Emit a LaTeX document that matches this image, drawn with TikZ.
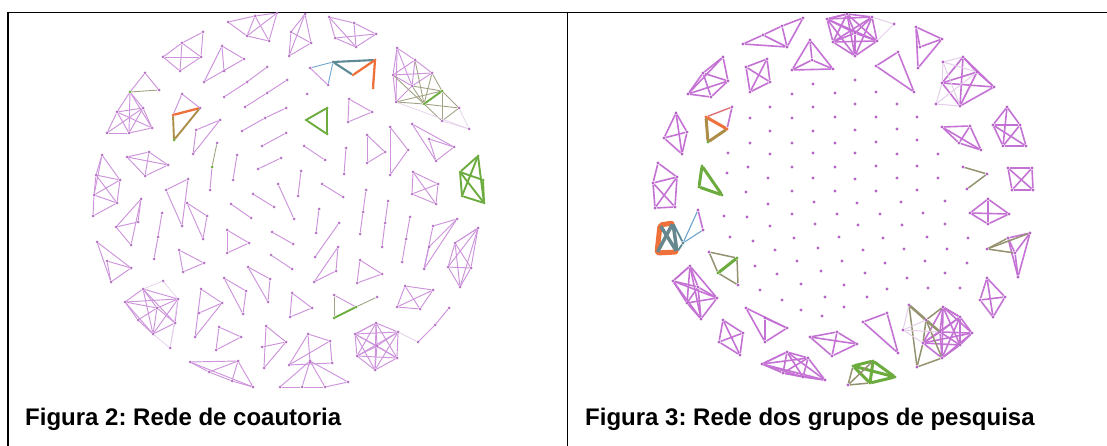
\documentclass[tikz,border=0pt]{standalone}
\usepackage{fontspec}
\setmainfont{Liberation Sans}
\frenchspacing
\pgfdeclarelayer{bg}
\pgfsetlayers{bg,main}

\definecolor{lpc}{RGB}{205,148,220}
\definecolor{ldc}{RGB}{182,116,196}
\definecolor{rpc}{RGB}{196,114,212}
\definecolor{rdc}{RGB}{180,100,196}
\definecolor{fpc}{RGB}{228,206,234}
\definecolor{grc}{RGB}{108,172,62}
\definecolor{orc}{RGB}{238,112,58}
\definecolor{tlc}{RGB}{92,138,150}
\definecolor{olc}{RGB}{148,146,112}
\definecolor{omc}{RGB}{172,142,72}
\definecolor{lbc}{RGB}{110,165,205}

\tikzset{
  ld/.style={circle,fill=ldc,draw=none,inner sep=0pt,minimum size=3pt},
  ldg/.style={ld,fill=grc},
  ldo/.style={ld,fill=orc},
  ldt/.style={ld,fill=tlc},
  rd/.style={circle,fill=rdc,draw=none,inner sep=0pt,minimum size=3.3pt},
  rdg/.style={rd,fill=grc},
  rdo/.style={rd,fill=orc},
  rdt/.style={rd,fill=tlc},
  le/.style={draw=lpc,line width=0.95pt},
  lf/.style={draw=fpc,line width=0.7pt},
  lol/.style={draw=olc!85,line width=0.9pt},
  lbl/.style={draw=lbc,line width=0.9pt},
  grn/.style={draw=grc,line width=1.9pt,line cap=round},
  ogm/.style={draw=orc,line width=2.3pt,line cap=round},
  olm/.style={draw=omc,line width=1.9pt,line cap=round},
  tlt/.style={draw=tlc,line width=2.1pt,line cap=round},
  re/.style={draw=rpc,line width=1.6pt},
  rf/.style={draw=fpc,line width=1pt},
  rol/.style={draw=olc,line width=1.5pt},
  rolt/.style={draw=olc,line width=2.6pt,line cap=round},
  grr/.style={draw=grc,line width=3pt,line cap=round},
  ogr/.style={draw=orc,line width=3pt,line cap=round},
  omr/.style={draw=omc,line width=3pt,line cap=round},
  ogx/.style={draw=orc,line width=5pt,line cap=round},
  tgx/.style={draw=tlc!70!gray,line width=3.5pt,line cap=round},
  tlm/.style={draw=tlc,line width=1.8pt},
  rbl/.style={draw=lbc,line width=1.1pt},
  frame/.style={draw=black,line width=1.5pt},
  caption/.style={font=\fontsize{24}{28}\selectfont\bfseries,anchor=base west,inner sep=0pt}
}

% nodes of one component, then its edges (all in one style)
\newcommand\grp[4]{%
  \foreach \nn/\xx/\yy in {#3}{\node[#1] (\nn) at (\xx,\yy) {};}%
  \begin{pgfonlayer}{bg}\foreach \ena/\enb in {#4}{\draw[#2] (\ena) -- (\enb);}\end{pgfonlayer}}
% extra edges in a given style
\newcommand\edges[2]{%
  \begin{pgfonlayer}{bg}\foreach \ena/\enb in {#2}{\draw[#1] (\ena) -- (\enb);}\end{pgfonlayer}}
% all pairs of a list of nodes
\newcommand\kall[2]{%
  \begin{pgfonlayer}{bg}\foreach \ena [count=\ci] in {#2}{%
    \foreach \enb [count=\cj] in {#2}{\ifnum\cj>\ci\relax\draw[#1] (\ena) -- (\enb);\fi}}\end{pgfonlayer}}

\begin{document}
\begin{tikzpicture}[x=1pt,y=-1pt]
\useasboundingbox (0,0) rectangle (1107,446);

% ---------- frame ----------
\draw[frame] (8,446) -- (8,12.5) -- (1107,12.5);
\draw[frame] (567.5,12.5) -- (567.5,446);

% ---------- co-authorship network ----------
\grp{ld}{le}{a1/228/22,a2/255/16,a3/277/13,a4/247/36,a5/269/41}{a1/a2,a2/a3,a1/a4,a4/a5,a5/a3,a2/a5,a4/a3,a2/a4}
\grp{ld}{le}{b1/291/32,b2/305/14,b3/289/56,b4/311/43}{b2/b1,b2/b3,b2/b4,b1/b4,b3/b4,b1/b3}
\grp{ld}{le}{c1/329/17,c2/354/23,c3/376/34,c4/335/38,c5/356/47}{c1/c2,c2/c3,c1/c4,c4/c5,c1/c5,c4/c3,c2/c5,c5/c3}
\grp{ld}{le}{d1/163/57,d2/182/43,d3/203/32,d4/180/71,d5/201/57}{d1/d2,d2/d3,d1/d4,d4/d5,d5/d3,d2/d5,d4/d2,d1/d5}
\grp{ld}{le}{e1/222/46,e2/244/59,e3/204/82,e4/224/71}{e1/e2,e1/e3,e3/e2,e1/e4}
\node[ldg] (f2) at (130,92) {};
\grp{ld}{le}{f1/145/73,f3/159/90,f4/117/112,f5/143/108,f6/107/133,f7/129/133,f8/152/128}{f1/f2,f1/f3,f2/f4,f2/f5,f2/f7,f2/f8,f4/f5,f4/f6,f4/f7,f4/f8,f5/f6,f5/f7,f5/f8,f6/f7,f7/f8}
\edges{lol}{f2/f3}
\grp{ld}{le}{g1/182/94,g2/200/108}{g1/g2}
\node[ldo] (g3) at (173,115) {};
\node[ldg] (g4) at (174,140) {};
\edges{le}{g1/g3}
\edges{ogm}{g3/g2}
\edges{olm}{g2/g4,g3/g4}
\grp{ld}{le}{h1/267/67,h2/247/82,h3/224/97}{h1/h2,h2/h3}
\grp{ld}{le}{i1/287/80,i2/267/93,i3/245/107}{i1/i2,i2/i3}
\grp{ld}{le}{j1/286/108,j2/265/118,j3/242/131}{j1/j2,j2/j3}
\node[ld] (k1) at (310,68) {};
\node[ldt] (k2) at (333,62) {};
\node[ldo] (k3) at (375,60) {};
\node[ldo] (k4) at (353,75) {};
\node[ldo] (k5) at (373,88) {};
\node[ld] (k6) at (328,85) {};
\edges{lbl}{k1/k2,k2/k6}
\edges{tlt}{k2/k3,k2/k4}
\edges{ogm}{k4/k3,k3/k5}
\edges{le}{k1/k6}
\node[ld] (n1) at (307,94) {};
\grp{ldg}{grn}{m1/327/108,m2/306/120,m3/327/134}{m1/m2,m2/m3,m1/m3}
\grp{ld}{le}{n2/349/99,n3/372/112,n4/348/122}{n2/n3,n3/n4,n2/n4}
\grp{ld}{le}{o1/397/48,o2/415/60,o3/432/73,o4/393/75,o5/412/86,o6/396/102,o9/459/108,o10/442/121,o11/469/129}{o1/o2,o2/o3,o1/o4,o1/o5,o1/o6,o2/o4,o2/o5,o4/o5,o4/o6,o3/o5,o4/o3,o5/o6}
\node[ldg] (o7) at (424,104) {};
\node[ldg] (o8) at (442,91) {};
\edges{lol}{o4/o7,o6/o7,o5/o7,o6/o8,o5/o8,o2/o7,o3/o7,o3/o8,o8/o10,o7/o9,o9/o10,o7/o10,o8/o9}
\edges{grn}{o7/o8}
\edges{lf}{o10/o11,o9/o11,o6/o11}
\grp{ld}{le}{p1/390/127,p2/408/150,p3/390/175}{p1/p2,p2/p3,p1/p3}
\grp{ld}{le}{q1/412/124,q2/429/139,q3/454/147,q4/436/161}{q1/q3,q1/q4,q2/q3,q2/q4,q3/q4}
\grp{ld}{le}{r1/367/135,r2/385/152,r3/367/163}{r1/r2,r2/r3,r1/r3}
\grp{ld}{le}{s1/304/146,s2/325/160}{s1/s2}
\grp{ld}{le}{t1/346/148,t2/344/174}{t1/t2}
\grp{ld}{le}{u1/281/158,u2/258/169}{u1/u2}
\grp{ld}{le}{v1/286/133,v2/262/146}{v1/v2}
\node[ld] (w1) at (217,143) {};
\node[ldg] (w2) at (212,167) {};
\node[ld] (w3) at (210,190) {};
\edges{lol}{w1/w2}
\edges{le}{w2/w3}
\grp{ld}{le}{x1/237/155,x2/233/180}{x1/x2}
\grp{ld}{le}{gg1/196/130,gg2/220/120,gg3/193/154}{gg1/gg2,gg2/gg3,gg1/gg3}
\grp{ld}{le}{y1/127/157,y2/149/152,y3/168/165,y4/145/176}{y1/y2,y2/y3,y3/y4,y4/y1,y1/y3,y2/y4}
\grp{ld}{le}{z1/102/155,z2/96/175,z3/120/180,z4/94/195,z5/117/203,z6/93/216}{z1/z2,z1/z3,z1/z4,z2/z3,z2/z5,z3/z4,z3/z5,z4/z5,z4/z6,z5/z6,z2/z4}
\grp{ldg}{grn}{G1/478/156,G2/460/172,G3/483/180,G4/462/196,G5/484/203}{G1/G2,G1/G5,G2/G4,G4/G5,G2/G5,G1/G4,G2/G3,G3/G5}
\grp{ld}{le}{aa1/413/172,aa2/438/184,aa3/412/194,aa4/436/204}{aa1/aa2,aa1/aa3,aa1/aa4,aa2/aa3,aa2/aa4,aa3/aa4}
\grp{ld}{le}{dd1/141/199,dd2/138/222,dd3/116/227,dd4/131/245}{dd1/dd3,dd1/dd2,dd1/dd4,dd3/dd2,dd3/dd4}
\grp{ld}{le}{ee1/162/213,ee2/158/237,ee3/154/259}{ee1/ee2,ee2/ee3}
\grp{ld}{le}{ff0/188/179,ff1/166/190,ff2/182/226,ff3/187/203,ff4/207/216,ff5/203/239}{ff0/ff1,ff1/ff2,ff0/ff2,ff3/ff4,ff4/ff5,ff3/ff5}
\grp{ld}{le}{hh1/253/194,hh2/274/207}{hh1/hh2}
\grp{ld}{le}{ii1/278/184,ii2/294/219}{ii1/ii2}
\grp{ld}{le}{jj1/301/171,jj2/298/196}{jj1/jj2}
\grp{ld}{le}{kk1/319/209,kk2/316/233}{kk1/kk2}
\grp{ld}{le}{ll1/322/184,ll2/343/197}{ll1/ll2}
\grp{ld}{le}{mm1/231/204,mm2/251/218}{mm1/mm2}
\grp{ld}{le}{nn1/227/230,nn2/249/243,nn3/227/253}{nn1/nn2,nn2/nn3,nn1/nn3}
\grp{ld}{le}{oo1/272/232,oo2/293/244}{oo1/oo2}
\grp{ld}{le}{pp1/339/223,pp2/315/257}{pp1/pp2}
\grp{ld}{le}{qq1/366/190,qq2/363/212,qq3/360/234}{qq1/qq2,qq2/qq3}
\grp{ld}{le}{rr1/388/201,rr2/385/223,rr3/382/247}{rr1/rr2,rr2/rr3}
\grp{ld}{le}{ss1/410/217,ss2/406/239,ss3/402/262}{ss1/ss2,ss2/ss3}
\grp{ld}{le}{tt1/433/226,tt2/457/219,tt3/429/247,tt4/424/269}{tt1/tt2,tt1/tt4,tt2/tt3,tt3/tt4,tt2/tt4}
\grp{ld}{le}{uu1/455/243,uu2/478/228,uu3/448/267,uu4/471/268,uu5/460/287}{uu1/uu2}
\kall{le}{uu1,uu2,uu3,uu4,uu5}
\grp{ld}{le}{vv1/97/242,vv2/107/261,vv3/131/268,vv4/111/282}{vv1/vv3,vv1/vv4,vv2/vv3,vv2/vv4,vv4/vv3}
\grp{ld}{le}{ww1/179/250,ww2/204/263,ww3/183/272}{ww1/ww2,ww2/ww3,ww1/ww3}
\grp{ld}{le}{xx1/271/255,xx2/292/269}{xx1/xx2}
\grp{ld}{le}{yy1/248/267,yy2/270/279,yy3/268/302}{yy1/yy2,yy2/yy3,yy1/yy3}
\grp{ld}{le}{zz1/338/247,zz2/336/271,zz3/314/282}{zz1/zz2,zz2/zz3,zz1/zz3}
\grp{ld}{le}{ab1/360/260,ab2/382/274,ab3/357/283}{ab1/ab2,ab2/ab3,ab1/ab3}
\grp{ld}{le}{ac1/224/278,ac2/246/291,ac3/243/314}{ac1/ac2,ac2/ac3,ac1/ac3}
\grp{ld}{le}{ad1/201/289,ad2/222/303,ad3/199/313,ad4/195/337}{ad1/ad4,ad1/ad2,ad2/ad4,ad3/ad2}
\grp{ld}{le}{ae1/163/281,ae2/143/289,ae3/125/302,ae4/178/299,ae5/157/308,ae6/138/320,ae7/175/323,ae8/153/334,ae9/170/348}{ae2/ae3,ae2/ae4,ae2/ae5,ae2/ae7,ae2/ae8,ae3/ae4,ae3/ae5,ae3/ae8,ae4/ae5,ae4/ae7,ae4/ae8,ae5/ae7,ae5/ae8,ae7/ae8,ae3/ae6,ae6/ae5,ae6/ae8}
\edges{lf}{ae1/ae2,ae1/ae4,ae4/ae9,ae8/ae9,ae7/ae9}
\grp{ld}{le}{af1/292/293,af2/312/308,af3/290/317}{af1/af2,af2/af3,af1/af3}
\node[ld] (ag1) at (334,295) {};
\node[ldg] (ag2) at (356,307) {};
\node[ld] (ag3) at (377,297) {};
\node[ldg] (ag4) at (334,318) {};
\edges{lol}{ag1/ag4,ag2/ag3}
\edges{grn}{ag4/ag2}
\edges{le}{ag1/ag2}
\grp{ld}{le}{ah1/405/286,ah2/433/290,ah3/397/307,ah4/420/309}{ah1/ah2,ah1/ah3,ah1/ah4,ah2/ah3,ah2/ah4,ah3/ah4}
\grp{ld}{le}{ai1/449/308,ai2/435/325,ai3/418/342}{ai1/ai2,ai2/ai3}
\grp{ld}{le}{aj1/219/327,aj2/241/337,aj3/216/350}{aj1/aj2,aj2/aj3,aj1/aj3}
\grp{ld}{le}{ak1/266/326,ak2/262/347,ak3/286/342,ak4/264/368}{ak1/ak3,ak1/ak4,ak2/ak3,ak3/ak4}
\grp{ld}{le}{al1/308/334,al2/330/341,al3/289/365,al4/332/363,al5/310/362}{al1/al2,al1/al3,al2/al4,al3/al4,al2/al3,al1/al5}
\grp{ld}{le}{am1/376/323,am2/355/334,am3/398/332,am4/377/346,am5/357/356,am6/397/358,am7/375/370}{am1/am2}
\kall{le}{am1,am2,am3,am4,am5,am6,am7}
\edges{lf}{am3/ai3}
\grp{ld}{le}{an1/190/362,an2/238/361,an3/209/372,an4/232/381,an5/253/387}{an1/an2,an1/an5,an2/an5,an3/an2,an4/an2,an1/an3,an3/an4,an4/an5}
\grp{ld}{le}{ao1/310/361,ao2/280/387,ao3/348/382,ao4/302/387,ao5/325/387}{ao1/ao2,ao1/ao3,ao2/ao4,ao4/ao5,ao5/ao3,ao1/ao4,ao1/ao5}

% ---------- research-group network ----------
\grp{rd}{re}{Ra1/743/44,Ra2/763/35,Ra3/782/26,Ra4/803/18,Ra5/787/47}{Ra1/Ra2,Ra2/Ra3,Ra3/Ra4,Ra1/Ra5,Ra2/Ra5,Ra3/Ra5,Ra4/Ra5}
\grp{rd}{re}{Rb1/827/19,Rb2/847/14,Rb3/872/17,Rb4/833/42,Rb5/855/33,Rb6/877/41,Rb7/855/56,Rb8/894/24}{Rb1/Rb2}
\kall{re}{Rb1,Rb2,Rb3,Rb4,Rb5,Rb6,Rb7}
\edges{rf}{Rb6/Rb8,Rb3/Rb8}
\grp{rd}{re}{Rc1/916/27,Rc2/942/39,Rc3/920/47,Rc4/918/68}{Rc1/Rc2,Rc1/Rc4,Rc2/Rc4,Rc3/Rc2,Rc1/Rc3}
\grp{rd}{re}{Rd1/810/40,Rd2/792/70,Rd3/833/69,Rd4/812/60}{Rd1/Rd2,Rd1/Rd3,Rd2/Rd3,Rd1/Rd4,Rd2/Rd4,Rd3/Rd4}
\grp{rd}{re}{Re1/876/66,Re2/898/52,Re3/914/92}{Re1/Re2,Re2/Re3,Re1/Re3}
\grp{rd}{re}{Rf1/723/57,Rf2/728/81,Rf3/688/94,Rf4/711/97,Rf5/703/73}{Rf1/Rf2,Rf1/Rf3,Rf1/Rf5,Rf2/Rf4,Rf3/Rf4,Rf3/Rf5,Rf5/Rf2,Rf5/Rf4,Rf2/Rf3}
\grp{rd}{re}{Rg1/746/67,Rg2/767/59,Rg3/770/82,Rg4/750/92}{Rg1/Rg2,Rg1/Rg3,Rg1/Rg4,Rg2/Rg3,Rg2/Rg4,Rg3/Rg4}
\grp{rd}{re}{Rh1/963/57,Rh2/977/72,Rh3/942/83,Rh4/994/87,Rh5/960/106,Rh6/936/104,Rh7/943/62}{Rh1/Rh2}
\kall{re}{Rh1,Rh2,Rh3,Rh4,Rh5}
\edges{rf}{Rh7/Rh1,Rh7/Rh3,Rh7/Rh2,Rh6/Rh3,Rh6/Rh5,Rh6/Rh2,Rh7/Rh5}
\grp{rd}{re}{Ri1/1007/107,Ri2/993/125,Ri3/1020/125,Ri4/1003/146,Ri5/1026/146}{Ri1/Ri2,Ri1/Ri3,Ri2/Ri3,Ri2/Ri4,Ri3/Ri5,Ri4/Ri5,Ri2/Ri5,Ri3/Ri4,Ri1/Ri4}
\grp{rd}{re}{Rj1/942/127,Rj2/970/126,Rj3/959/143,Rj4/981/150}{Rj1/Rj2,Rj1/Rj4,Rj2/Rj4,Rj1/Rj3,Rj2/Rj3,Rj3/Rj4}
\grp{rd}{re}{Rk1/676/113,Rk2/687/132,Rk3/664/138,Rk4/682/154}{Rk1/Rk2,Rk1/Rk3,Rk1/Rk4,Rk2/Rk3,Rk2/Rk4,Rk3/Rk4}
\node[rd] (Rl1) at (732,107) {};
\node[rdo] (Rl2) at (706,117) {};
\node[rdo] (Rl3) at (727,129) {};
\node[rdg] (Rl4) at (708,142) {};
\edges{re}{Rl1/Rl3}
\edges{draw=orc!60!rpc,line width=1.4pt}{Rl1/Rl2}
\edges{ogr}{Rl2/Rl3}
\edges{omr}{Rl3/Rl4,Rl2/Rl4}
\grp{rdg}{grr}{Rm1/702/166,Rm2/699/187,Rm3/722/195}{Rm1/Rm2,Rm2/Rm3,Rm1/Rm3}
\grp{rd}{re}{Rn1/658/163,Rn2/677/177,Rn3/653/183,Rn4/655/208,Rn5/675/207}{Rn1/Rn2,Rn1/Rn3,Rn2/Rn3,Rn2/Rn4,Rn3/Rn5,Rn2/Rn5,Rn3/Rn4,Rn4/Rn5}
\grp{rd}{re}{Ro1/1008/168,Ro2/1032/168,Ro3/1012/190,Ro4/1033/190}{Ro1/Ro2,Ro1/Ro3,Ro1/Ro4,Ro2/Ro3,Ro2/Ro4,Ro3/Ro4}
\grp{rd}{rol}{Rp1/963/167,Rp2/987/174,Rp3/967/189}{Rp1/Rp2,Rp2/Rp3}
\node[rdo] (Rq1) at (660,225) {};
\node[rdo] (Rq2) at (673,223) {};
\node[rdo] (Rq3) at (677,252) {};
\node[rdo] (Rq4) at (657,253) {};
\node[rdt] (Rq5) at (683,243) {};
\node[rd] (Rq6) at (703,230) {};
\node[rd] (Rq7) at (698,210) {};
\edges{ogx}{Rq1/Rq2,Rq1/Rq4,Rq4/Rq3}
\edges{tgx}{Rq2/Rq3,Rq1/Rq3,Rq2/Rq4}
\edges{tlm}{Rq3/Rq5,Rq2/Rq5}
\edges{rbl}{Rq5/Rq6,Rq5/Rq7}
\edges{re}{Rq6/Rq7}
\node[rd] (Rr1) at (709,252) {};
\node[rdg] (Rr2) at (737,258) {};
\node[rdg] (Rr3) at (718,273) {};
\node[rd] (Rr4) at (738,285) {};
\edges{rol}{Rr1/Rr2,Rr1/Rr3,Rr2/Rr4,Rr3/Rr4}
\edges{grr}{Rr3/Rr2}
\grp{rd}{re}{Rs1/690/266,Rs2/673/281,Rs3/698/287,Rs4/717/298,Rs5/687/303,Rs6/701/319}{Rs1/Rs2}
\kall{re}{Rs1,Rs2,Rs3,Rs4,Rs5,Rs6}
\grp{rd}{re}{Rt1/723/320,Rt2/743/333,Rt3/719/342,Rt4/740/355}{Rt1/Rt2,Rt1/Rt3,Rt1/Rt4,Rt2/Rt3,Rt2/Rt4,Rt3/Rt4}
\grp{rd}{re}{Ru1/746/308,Ru2/765/318,Ru3/787/328,Ru4/765/342}{Ru1/Ru3,Ru1/Ru4,Ru2/Ru4,Ru4/Ru3,Ru2/Ru3}
\grp{rd}{re}{Rv1/810/337,Rv2/837/332,Rv3/857/344,Rv4/832/356}{Rv1/Rv2,Rv1/Rv3,Rv1/Rv4,Rv2/Rv3,Rv2/Rv4,Rv3/Rv4}
\grp{rd}{re}{Rw1/762/364,Rw2/787/352,Rw3/808/358,Rw4/783/373,Rw5/803/377,Rw6/825/380}{Rw1/Rw2}
\kall{re}{Rw1,Rw2,Rw3,Rw4,Rw5,Rw6}
\node[rdg] (Rx1) at (853,366) {};
\node[rdg] (Rx2) at (873,361) {};
\node[rdg] (Rx3) at (895,377) {};
\node[rd] (Rx4) at (848,385) {};
\node[rdg] (Rx5) at (870,383) {};
\edges{grr}{Rx1/Rx2,Rx2/Rx3,Rx3/Rx5,Rx1/Rx5,Rx2/Rx5,Rx1/Rx3}
\edges{rol}{Rx1/Rx4,Rx4/Rx5,Rx4/Rx2}
\grp{rd}{re}{Ry1/863/322,Ry2/887/313,Ry3/898/353}{Ry1/Ry2,Ry2/Ry3,Ry1/Ry3}
\grp{rd}{re}{Rz1/909/305,Rz2/926/320,Rz3/943/307,Rz4/960/317,Rz5/903/330,Rz6/940/332,Rz7/972/333,Rz8/923/343,Rz9/942/358,Rz10/960/345,Rz11/917/367}{Rz3/Rz4}
\kall{re}{Rz3,Rz4,Rz6,Rz7,Rz8,Rz9,Rz10}
\edges{rol}{Rz1/Rz11,Rz11/Rz8,Rz2/Rz8,Rz2/Rz3,Rz2/Rz9,Rz11/Rz9}
\edges{rolt}{Rz1/Rz2,Rz2/Rz6}
\edges{rf}{Rz5/Rz2,Rz1/Rz5,Rz5/Rz8,Rz5/Rz6}
\grp{rd}{re}{RA1/987/278,RA2/1005/297,RA3/980/300,RA4/993/317}{RA1/RA2,RA1/RA3,RA1/RA4,RA2/RA3,RA2/RA4,RA3/RA4}
\grp{rd}{re}{RB1/987/249,RB2/1008/238,RB3/1030/233,RB4/1015/253,RB5/1018/277}{RB2/RB3,RB2/RB4,RB3/RB4,RB2/RB5,RB3/RB5,RB4/RB5}
\edges{rol}{RB1/RB2,RB1/RB4,RB1/RB3}
\grp{rd}{re}{RC1/970/213,RC2/988/199,RC3/1009/214,RC4/988/224}{RC1/RC2,RC1/RC3,RC1/RC4,RC2/RC3,RC2/RC4,RC3/RC4}

% isolated groups
\foreach \xx/\yy [count=\k] in {
  813/84,855/80,792/94,835/93,876/92,770/107,813/107,855/104,897/104,
  750/118,792/118,835/117,876/117,917/117,770/131,813/131,855/130,897/129,
  750/143,792/143,835/143,876/142,917/140,728/153,770/154,813/153,855/153,897/154,938/154,
  727/173,748/167,792/167,835/167,876/166,917/166,768/178,813/178,855/179,897/178,938/178,
  746/192,792/191,835/191,876/191,917/190,768/204,814/202,857/203,901/202,945/201,
  724/216,747/217,792/214,837/214,880/214,923/213,770/226,815/224,858/225,902/225,945/224,
  730/237,753/241,794/238,839/237,883/238,927/237,968/238,775/250,818/248,863/250,904/249,947/249,
  755/266,797/261,842/261,885/263,925/261,967/263,777/274,821/271,865/273,907/278,945/273,
  760/290,801/284,844/285,887/289,928/288,960/288,782/300,825/297,867/297,801/310,844/307,822/316}
  {\node[rd] (iso\k) at (\xx,\yy) {};}

% ---------- captions ----------
\node[caption] (cap2) at (25,425) {Figura 2: Rede de coautoria};
\node[caption] (cap3) at (585,425) {Figura 3: Rede dos grupos de pesquisa};
\end{tikzpicture}
\end{document}
